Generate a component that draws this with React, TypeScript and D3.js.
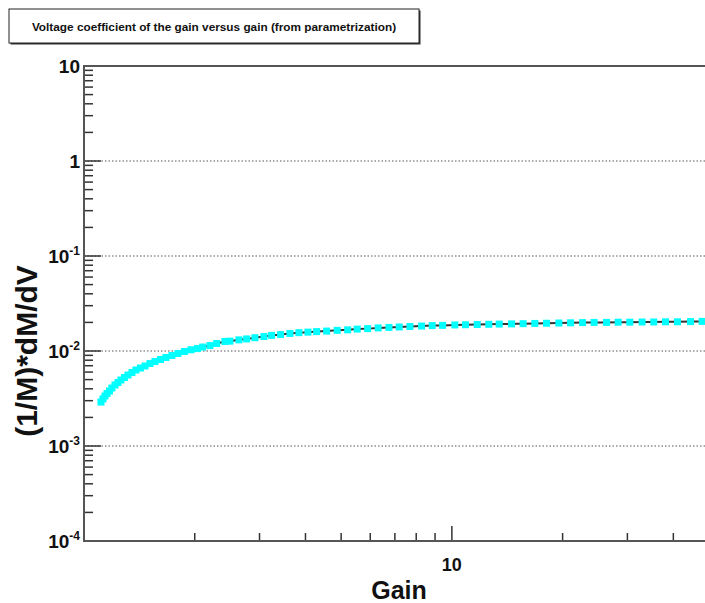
import React, { useEffect, useRef } from 'react';
import * as d3 from 'd3';

// gain values (x) and voltage coefficient (1/M)*dM/dV (y)
const gain = [
  1.112, 1.126, 1.140, 1.155, 1.173, 1.191, 1.214, 1.237, 1.260, 1.288,
  1.317, 1.350, 1.384, 1.424, 1.465, 1.511, 1.559, 1.614, 1.670, 1.734,
  1.800, 1.875, 1.953, 2.034, 2.101, 2.200, 2.294, 2.416, 2.493, 2.637,
  2.768, 2.915, 3.084, 3.236, 3.423, 3.629, 3.839, 4.062, 4.289, 4.565,
  4.878, 5.208, 5.529, 5.902, 6.305, 6.744, 7.192, 7.691, 8.273, 8.841,
  9.435, 10.19, 10.89, 11.72, 12.60, 13.45, 14.53, 15.62, 16.81, 18.08,
  19.54, 21.02, 22.66, 24.36, 26.33, 28.31, 30.45, 32.89, 35.39, 38.08,
  41.05, 44.53, 47.88
];
const coef = [
  0.00290, 0.00313, 0.00336, 0.00357, 0.00379, 0.00408, 0.00439, 0.00466, 0.00495, 0.00526,
  0.00559, 0.00594, 0.00631, 0.00662, 0.00695, 0.00738, 0.00775, 0.00814, 0.00855, 0.00897,
  0.00941, 0.00988, 0.0103, 0.0106, 0.0110, 0.0114, 0.0120, 0.0126, 0.0127, 0.0131,
  0.0134, 0.0138, 0.0142, 0.0146, 0.0149, 0.0153, 0.0156, 0.0158, 0.0160, 0.0162,
  0.0165, 0.0167, 0.0170, 0.0172, 0.0175, 0.0177, 0.0179, 0.0181, 0.0183, 0.0185,
  0.0186, 0.0188, 0.0189, 0.0190, 0.0191, 0.0192, 0.0193, 0.0194, 0.0195, 0.0196,
  0.0197, 0.0198, 0.0199, 0.0200, 0.0200, 0.0201, 0.0201, 0.0202, 0.0202, 0.0203,
  0.0203, 0.0204, 0.0205
];

const yMajor = [10, 1, 0.1, 0.01, 0.001, 0.0001];
const yLabels = [['10', ''], ['1', ''], ['10', '-1'], ['10', '-2'], ['10', '-3'], ['10', '-4']];
const xMajor = [10];
const xMinor = [2, 3, 4, 5, 6, 7, 8, 9, 20, 30, 40];

const title = 'Voltage coefficient of the gain versus gain (from parametrization)';

const App = () => {
  const svgRef = useRef<SVGSVGElement | null>(null);

  useEffect(() => {
    if (!svgRef.current) return;
    const svg = d3.select(svgRef.current);
    svg.selectAll('*').remove();

    const left = 84, right = 709, top = 66, bottom = 541;
    const font = '"Liberation Sans", Arial, Helvetica, sans-serif';

    const x = d3.scaleLog().domain([1, 50]).range([left, right]);
    const y = d3.scaleLog().domain([1e-4, 10]).range([bottom, top]);

    svg.append('rect').attr('width', 705).attr('height', 603).attr('fill', 'white');

    // title box with shadow
    svg.append('rect').attr('x', 10.5).attr('y', 10.5).attr('width', 410).attr('height', 34).attr('fill', '#333');
    svg.append('rect').attr('x', 9).attr('y', 9).attr('width', 410).attr('height', 34)
      .attr('fill', 'white').attr('stroke', '#222').attr('stroke-width', 1);
    svg.append('text').attr('x', 214).attr('y', 30.5).attr('text-anchor', 'middle')
      .attr('font-family', font).attr('font-weight', 'bold').attr('font-size', 11.8)
      .attr('fill', '#111').text(title);

    // horizontal dotted grid
    svg.selectAll('.grid')
      .data(yMajor.slice(1, -1))
      .enter().append('line')
      .attr('x1', left).attr('x2', 705)
      .attr('y1', d => y(d)).attr('y2', d => y(d))
      .attr('stroke', '#555').attr('stroke-width', 1).attr('stroke-dasharray', '1.5,2');

    // y ticks: minor 2..9 per decade
    const yMinor: number[] = [];
    for (let e = -4; e < 1; e++) for (let k = 2; k <= 9; k++) yMinor.push(k * Math.pow(10, e));
    svg.selectAll('.ymin').data(yMinor).enter().append('line')
      .attr('x1', left).attr('x2', left + 9)
      .attr('y1', d => y(d)).attr('y2', d => y(d))
      .attr('stroke', '#333').attr('stroke-width', 1.5);
    svg.selectAll('.ymaj').data(yMajor).enter().append('line')
      .attr('x1', left).attr('x2', left + 17)
      .attr('y1', d => y(d)).attr('y2', d => y(d))
      .attr('stroke', '#333').attr('stroke-width', 1.5);

    // x ticks
    svg.selectAll('.xmin').data(xMinor).enter().append('line')
      .attr('x1', d => x(d)).attr('x2', d => x(d))
      .attr('y1', bottom).attr('y2', bottom - 8)
      .attr('stroke', '#333').attr('stroke-width', 1.5);
    svg.selectAll('.xmaj').data(xMajor).enter().append('line')
      .attr('x1', d => x(d)).attr('x2', d => x(d))
      .attr('y1', bottom).attr('y2', bottom - 15)
      .attr('stroke', '#333').attr('stroke-width', 1.5);

    // frame
    svg.append('path')
      .attr('d', `M${right},${top}H${left}V${bottom}H${right}`)
      .attr('fill', 'none').attr('stroke', '#555').attr('stroke-width', 2);

    // y tick labels
    const yl = svg.selectAll('.ylab').data(yMajor).enter().append('text')
      .attr('x', 80).attr('y', d => y(d) + 7)
      .attr('text-anchor', 'end')
      .attr('font-family', font).attr('font-weight', 'bold').attr('font-size', 19)
      .attr('fill', '#111');
    yl.append('tspan').text((d, i) => yLabels[i][0]);
    yl.append('tspan').attr('dy', -8).attr('font-size', 12).text((d, i) => yLabels[i][1]);

    // x tick labels
    svg.selectAll('.xlab').data(xMajor).enter().append('text')
      .attr('x', d => x(d)).attr('y', 571)
      .attr('text-anchor', 'middle')
      .attr('font-family', font).attr('font-weight', 'bold').attr('font-size', 18)
      .attr('fill', '#111').text(d => String(d));

    // axis titles
    svg.append('text').attr('x', 399).attr('y', 599).attr('text-anchor', 'middle')
      .attr('font-family', font).attr('font-weight', 'bold').attr('font-size', 25)
      .attr('fill', '#111').text('Gain');
    svg.append('text')
      .attr('transform', 'translate(37,351) rotate(-90)')
      .attr('text-anchor', 'middle')
      .attr('font-family', font).attr('font-weight', 'bold').attr('font-size', 30)
      .attr('fill', '#111').text('(1/M)*dM/dV');

    // data
    const pts = gain.map((g, i) => [g, coef[i]] as [number, number]);
    const line = d3.line<[number, number]>().x(d => x(d[0])).y(d => y(d[1]));
    svg.append('path').attr('d', line(pts) || '')
      .attr('fill', 'none').attr('stroke', '#333').attr('stroke-width', 2);
    svg.selectAll('.pt').data(pts).enter().append('rect')
      .attr('x', d => x(d[0]) - 3.5).attr('y', d => y(d[1]) - 3.5)
      .attr('width', 7).attr('height', 7)
      .attr('fill', '#00ffff');
  }, []);

  return (
    <svg ref={svgRef} width={705} height={603}
      style={{ position: 'absolute', left: 0, top: 0, display: 'block' }} />
  );
};

export default App;
